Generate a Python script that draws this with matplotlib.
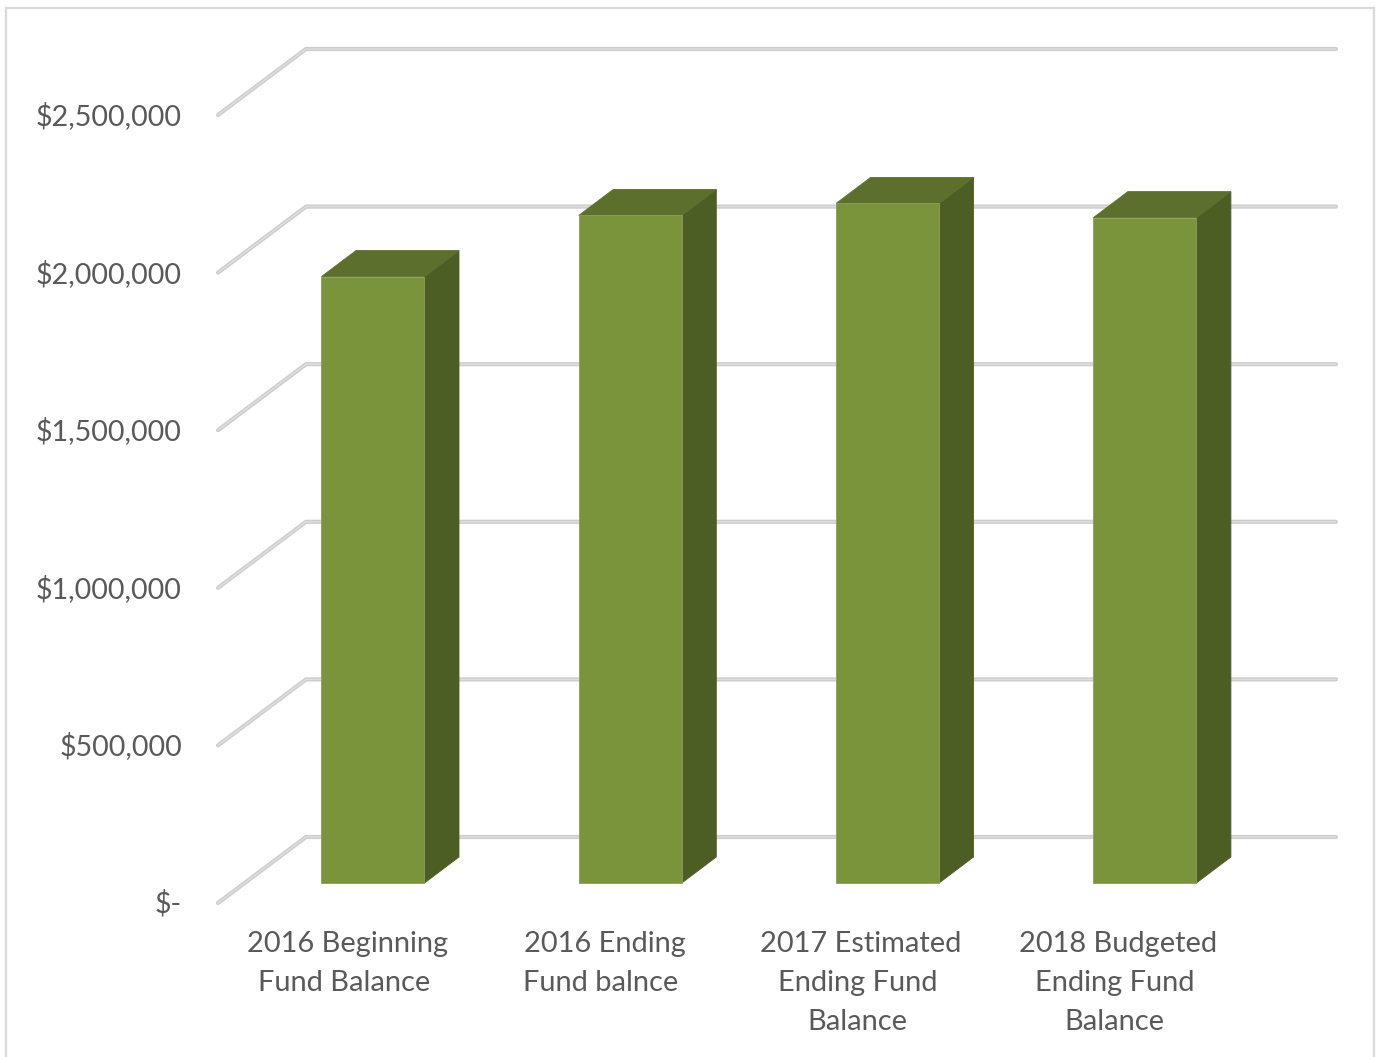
import matplotlib
matplotlib.use('Agg')
import matplotlib.pyplot as plt
from matplotlib.patches import Polygon, Rectangle

plt.rcParams['font.family'] = ['Lato', 'DejaVu Sans']

# fund balances
categories = ['2016 Beginning\nFund Balance', '2016 Ending\nFund balnce',
              '2017 Estimated\nEnding Fund\nBalance', '2018 Budgeted\nEnding Fund\nBalance']
values = [1924000, 2118000, 2156000, 2111000]
ticks = [0, 500000, 1000000, 1500000, 2000000, 2500000]
tick_labels = ['$-', '$500,000', '$1,000,000', '$1,500,000', '$2,000,000', '$2,500,000']

W, H = 1377, 1057
fig = plt.figure(figsize=(W / 100, H / 100), dpi=100)
ax = fig.add_axes([0, 0, 1, 1])

# scales: one category = 257.3 px, one dollar = 788/2.5M px, baseline of the bars at y=883
cat_px = 257.3
dollar_px = 788.0 / 2500000
first_x = 373.0
base_y = 883.0
ax.set_xlim((0 - first_x) / cat_px, (W - first_x) / cat_px)
ax.set_ylim((base_y - H) / dollar_px, base_y / dollar_px)
ax.axis('off')


def dx(px):
    return px / cat_px


def dy(px):
    return px / dollar_px


# frame round the chart
ax.add_patch(Rectangle((0.0042, -0.02), 0.9935, 1.0124, transform=ax.transAxes, fill=False,
                       edgecolor='#d9d9d9', linewidth=1.6, zorder=1))

# floor offsets of the 3D box relative to the bar baseline
front_y = dy(-20)
back_y = dy(46)
left_front = dx(218 - first_x)
left_back = dx(306 - first_x)
right_back = dx(1336 - first_x)

for t in ticks:
    xs = [left_front, left_back, right_back]
    ys = [t + front_y, t + back_y, t + back_y]
    ax.plot(xs, ys, color='#cdcdcd', linewidth=3.0, solid_capstyle='round',
            solid_joinstyle='miter', zorder=2)
    ax.plot(xs, ys, color='#dedede', linewidth=1.0, solid_capstyle='round',
            solid_joinstyle='miter', zorder=2.1)

for t, lab in zip(ticks, tick_labels):
    ax.text(dx(182 - first_x), t + front_y - dy(10), lab, ha='right', va='baseline',
            fontsize=20.7, color='#595959', zorder=5)

# bars with side and top faces
half = dx(51.5)
depth_x = dx(34.5)
depth_y = dy(26)
for i, v in enumerate(values):
    l, r = i - half, i + half
    ax.add_patch(Polygon([(r, 0), (r + depth_x, depth_y), (r + depth_x, v + depth_y), (r, v)],
                         facecolor='#4d5e25', edgecolor='#4d5e25', linewidth=0.6, zorder=3))
    ax.add_patch(Polygon([(l, v), (r, v), (r + depth_x, v + depth_y), (l + depth_x, v + depth_y)],
                         facecolor='#5c6f2d', edgecolor='#5c6f2d', linewidth=0.6, zorder=3))
    ax.bar(i, v, width=2 * half, color='#7a943c', edgecolor='#8a9f5c', linewidth=0.6, zorder=4)

# category labels, one text per line because the first line sits a little to the right
label_centers = [347.5, 604.5, 861, 1118]
for px, lab in zip(label_centers, categories):
    for n, line in enumerate(lab.split('\n')):
        shift = 0 if n == 0 else -3.5
        ax.text(dx(px + shift - first_x), dy(base_y - 952 - 39 * n), line, ha='center',
                va='baseline', fontsize=20.9, color='#595959', zorder=5)

fig.savefig('out.png', dpi=100, facecolor='white')
